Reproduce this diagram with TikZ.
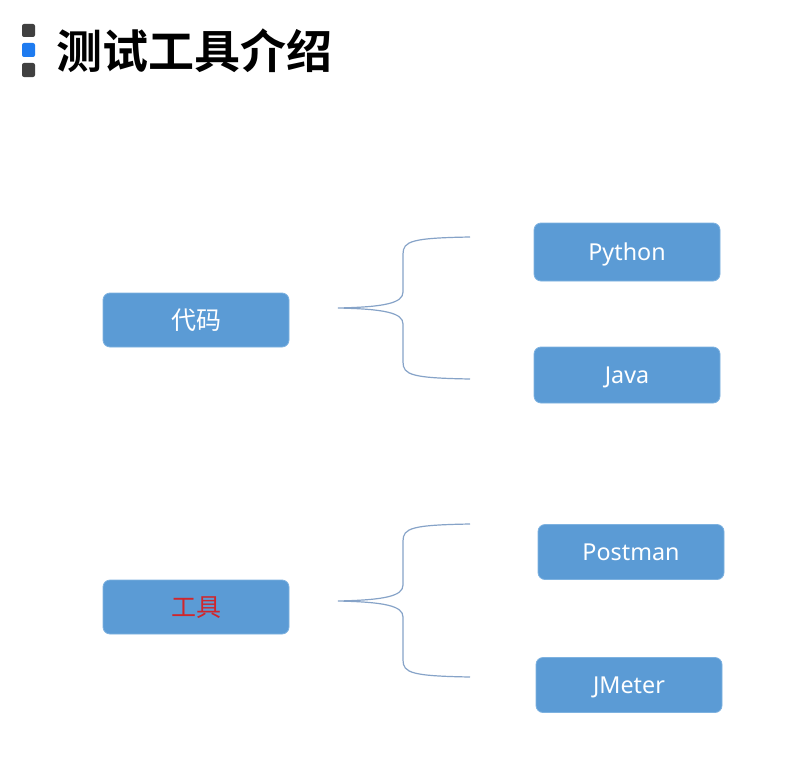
\documentclass[tikz,border=0pt]{standalone}
\usepackage{fontspec}
\setmainfont{Noto Sans}
\newfontfamily\cjk{Noto Sans CJK SC}
\newfontfamily\cjkbold{Noto Sans CJK SC Bold}
\definecolor{boxblue}{HTML}{5B9BD5}
\definecolor{boxedge}{HTML}{7EB2E0}
\definecolor{bracecol}{HTML}{86A3C8}
\definecolor{icondark}{HTML}{404040}
\definecolor{iconblue}{HTML}{1E7BF0}
\definecolor{redtext}{HTML}{D0262C}
\begin{document}
\begin{tikzpicture}[x=1pt,y=-1pt,
  itembox/.style={draw=boxedge,line width=0.8pt,fill=boxblue,rounded corners=7pt,
    minimum width=186pt,minimum height=55pt,inner sep=0pt,text=white,
    font=\fontsize{23.3}{25}\selectfont,text height=16.6pt,text depth=0.3pt},
  cjkbox/.style={itembox,minimum height=54pt,font=\cjk\fontsize{25}{27}\selectfont,
    text height=22pt,text depth=3pt},
  bracepath/.style={draw=bracecol,line width=1.2pt},
  iconsq/.style={rounded corners=2pt}]
\useasboundingbox[fill=white] (0,0) rectangle (792,776);
% title icon
\fill[icondark,iconsq] (22,24) rectangle (35,37);
\fill[iconblue,iconsq] (22,43) rectangle (35,57);
\fill[icondark,iconsq] (22,63) rectangle (35,77);
\node[anchor=west,inner sep=0pt,font=\cjkbold\fontsize{46}{48}\selectfont] (title) at (56,51) {测试工具介绍};
% boxes
\node[cjkbox] (code) at (196,320) {代码};
\node[cjkbox,text=redtext] (tool) at (196,607) {工具};
\node[itembox,minimum height=58pt] (python) at (627,252) {Python};
\node[itembox,minimum height=56pt] (java) at (627,375) {Java};
\node[itembox,minimum height=55pt] (postman) at (631,552) {Postman};
\node[itembox,minimum height=55pt] (jmeter) at (629,685) {JMeter};
% brace coordinates
\coordinate (b1tip) at (338,308);
\coordinate (b1top) at (470,237);
\coordinate (b1bot) at (470,379);
\coordinate (b2tip) at (338,601);
\coordinate (b2top) at (470,524);
\coordinate (b2bot) at (470,677);
% braces
\draw[bracepath] (b1top) .. controls (412,238) and (403,241) .. (403,254) -- (403,292)
  .. controls (403,303) and (385,307) .. (b1tip)
  .. controls (385,309) and (403,313) .. (403,324) -- (403,362)
  .. controls (403,375) and (412,378) .. (b1bot);
\draw[bracepath] (b2top) .. controls (412,525) and (403,528) .. (403,541) -- (403,585)
  .. controls (403,596) and (385,600) .. (b2tip)
  .. controls (385,602) and (403,606) .. (403,617) -- (403,660)
  .. controls (403,673) and (412,676) .. (b2bot);
\end{tikzpicture}
\end{document}
